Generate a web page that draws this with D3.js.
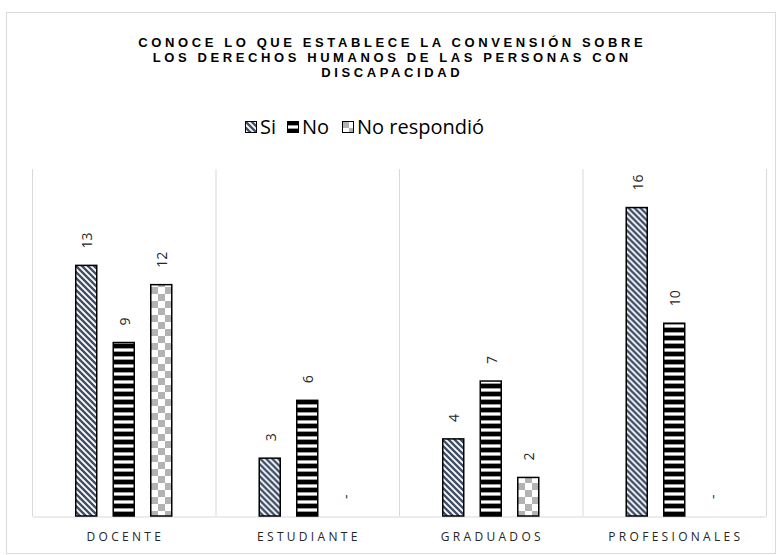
<!DOCTYPE html>
<html>
<head>
<meta charset="utf-8">
<script src="https://cdn.jsdelivr.net/npm/d3@7"></script>
<style>
  html, body { margin: 0; padding: 0; background: #fff; }
  svg { display: block; }
</style>
</head>
<body>
<svg id="chart" width="781" height="555"></svg>
<script>
// Respuestas por grupo encuestado
const categories = ["DOCENTE", "ESTUDIANTE", "GRADUADOS", "PROFESIONALES"];
const seriesNames = ["Si", "No", "No respondió"];
const siValues = [13, 3, 4, 16];
const noValues = [9, 6, 7, 10];
const noRespondioValues = [12, 0, 2, 0];
const yTicks = [0, 18];

const seriesValues = [siValues, noValues, noRespondioValues];
const data = categories.map((c, i) => ({
  category: c,
  values: seriesNames.map((s, j) => ({ series: s, value: seriesValues[j][i] }))
}));

const svg = d3.select("#chart");
const W = 781, H = 555;
const plot = { left: 32, right: 766, top: 169, bottom: 516 };

// Fill patterns for each series
const defs = svg.append("defs");

const pSi = defs.append("pattern").attr("id", "pat-si")
  .attr("patternUnits", "userSpaceOnUse").attr("width", 6).attr("height", 6);
pSi.append("rect").attr("width", 6).attr("height", 6).attr("fill", "#ffffff");
pSi.append("path")
  .attr("d", "M-1,-1 L7,7 M-4,2 L4,10 M2,-4 L10,4")
  .attr("stroke", "#3f4f66").attr("stroke-width", 2.4);

const pNo = defs.append("pattern").attr("id", "pat-no")
  .attr("patternUnits", "userSpaceOnUse").attr("width", 8).attr("height", 8);
pNo.append("rect").attr("width", 8).attr("height", 8).attr("fill", "#ffffff");
pNo.append("rect").attr("y", 0).attr("width", 8).attr("height", 4).attr("fill", "#000000");
pNo.append("rect").attr("y", 4).attr("width", 8).attr("height", 1).attr("fill", "#9a9a9a");
pNo.append("rect").attr("y", 7).attr("width", 8).attr("height", 1).attr("fill", "#9a9a9a");

const pNr = defs.append("pattern").attr("id", "pat-nr")
  .attr("patternUnits", "userSpaceOnUse").attr("width", 14).attr("height", 14);
pNr.append("rect").attr("width", 14).attr("height", 14).attr("fill", "#ffffff");
pNr.append("rect").attr("x", 0).attr("y", 0).attr("width", 7).attr("height", 7).attr("fill", "#b3b3b3");
pNr.append("rect").attr("x", 7).attr("y", 7).attr("width", 7).attr("height", 7).attr("fill", "#b3b3b3");

const fills = { "Si": "url(#pat-si)", "No": "url(#pat-no)", "No respondió": "url(#pat-nr)" };

// Outer chart frame
svg.append("rect")
  .attr("x", 6.5).attr("y", 12.5).attr("width", 769).attr("height", 541)
  .attr("fill", "#fff").attr("stroke", "#d9d9d9").attr("stroke-width", 1);

// Scales
const x = d3.scaleBand().domain(categories).range([plot.left, plot.right]).padding(0);
const xInner = d3.scaleBand().domain(seriesNames).range([0, x.bandwidth()])
  .paddingInner(0.44).paddingOuter(1.166);
const y = d3.scaleLinear().domain([yTicks[0], yTicks[1]]).range([plot.bottom, plot.top]);

// Category separators (vertical gridlines)
const gridX = categories.map(c => x(c)).concat([plot.right]);
svg.append("g").selectAll("line").data(gridX).join("line")
  .attr("x1", d => d + 0.5).attr("x2", d => d + 0.5)
  .attr("y1", y(yTicks[1])).attr("y2", y(0))
  .attr("stroke", "#d9d9d9").attr("stroke-width", 1);

// Category axis
const xAxis = svg.append("g")
  .attr("transform", `translate(0,${y(0) + 0.5})`)
  .call(d3.axisBottom(x).tickSize(0).tickPadding(16));
xAxis.select(".domain").attr("stroke", "#d9d9d9").attr("stroke-width", 1.2);
xAxis.selectAll("text")
  .attr("font-family", "'Open Sans', 'Noto Sans', sans-serif")
  .attr("font-size", 12)
  .attr("letter-spacing", "3.3px")
  .attr("fill", "#262626")
  .attr("dx", "1.6px");

// Bars
const groups = svg.append("g").selectAll("g").data(data).join("g")
  .attr("transform", d => `translate(${x(d.category)},0)`);

groups.selectAll("rect").data(d => d.values.filter(v => v.value > 0)).join("rect")
  .attr("x", v => xInner(v.series))
  .attr("y", v => y(v.value))
  .attr("width", xInner.bandwidth())
  .attr("height", v => y(0) - y(v.value))
  .attr("fill", v => fills[v.series])
  .attr("stroke", "#000").attr("stroke-width", 1.5);

// Value labels, rotated; zero values shown as a dash
groups.selectAll("text").data(d => d.values).join("text")
  .attr("transform", v => `translate(${xInner(v.series) + xInner.bandwidth() / 2 + 6},${y(v.value) - 17}) rotate(-90)`)
  .attr("text-anchor", "start")
  .attr("font-family", "'Open Sans', 'Noto Sans', sans-serif")
  .attr("font-size", 14)
  .attr("fill", "#262626")
  .text(v => v.value === 0 ? "-" : v.value);

// Title
const titleLines = [
  "CONOCE LO QUE ESTABLECE LA CONVENSIÓN SOBRE",
  "LOS DERECHOS HUMANOS DE LAS PERSONAS CON",
  "DISCAPACIDAD"
];
svg.append("g").selectAll("text").data(titleLines).join("text")
  .attr("x", W / 2 + 1.8)
  .attr("y", (d, i) => 47 + i * 15)
  .attr("text-anchor", "middle")
  .attr("font-family", "'Liberation Sans', Arial, sans-serif")
  .attr("font-weight", "bold")
  .attr("font-size", 13)
  .attr("letter-spacing", "3.6px")
  .attr("fill", "#000")
  .text(d => d);

// Legend
const legendItems = [
  { name: "Si", x: 245 },
  { name: "No", x: 287 },
  { name: "No respondió", x: 342 }
];
const legend = svg.append("g").selectAll("g").data(legendItems).join("g")
  .attr("transform", d => `translate(${d.x},121)`);
legend.append("rect")
  .attr("x", 0.5).attr("y", 0.5).attr("width", 11).attr("height", 11)
  .attr("fill", d => fills[d.name]).attr("stroke", "#000").attr("stroke-width", 1);
legend.append("text")
  .attr("x", 15).attr("y", 13)
  .attr("font-family", "'Open Sans', 'Noto Sans', sans-serif")
  .attr("font-size", 20)
  .attr("fill", "#000")
  .text(d => d.name);
</script>
</body>
</html>
